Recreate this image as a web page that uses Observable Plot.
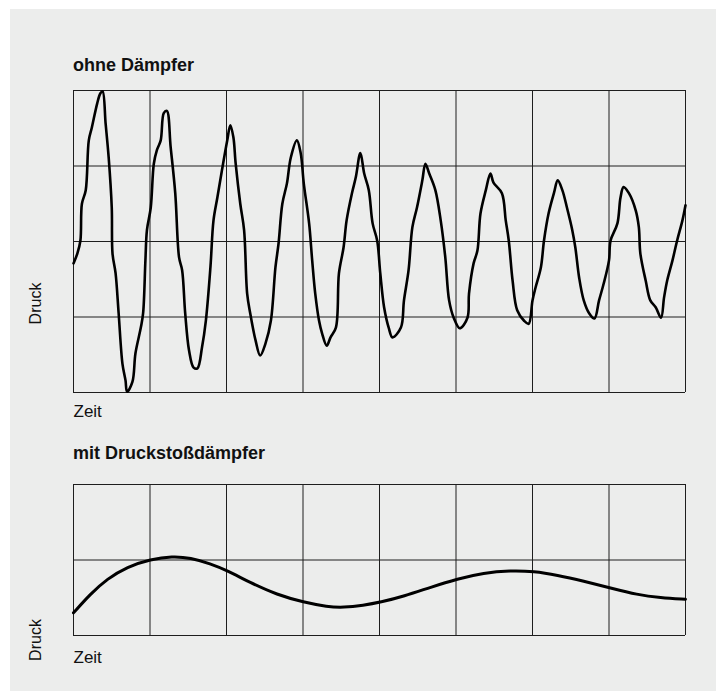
<!DOCTYPE html>
<html>
<head>
<meta charset="utf-8">
<script src="https://cdn.jsdelivr.net/npm/d3@7"></script>
<script src="https://cdn.jsdelivr.net/npm/@observablehq/plot@0.6"></script>
<style>
  html, body { margin: 0; padding: 0; background: #ffffff; }
  body { width: 716px; height: 691px; position: relative; overflow: hidden; font-family: "Liberation Sans", Arial, Helvetica, sans-serif; }
  #bg { position: absolute; left: 10px; top: 9px; width: 706px; height: 682px; background: #ecedec; }
  .title { position: absolute; left: 73px; font-weight: bold; font-size: 18px; color: #111; line-height: 1; }
  .panel { position: absolute; left: 0; }
</style>
</head>
<body>
<div id="bg"></div>
<div class="title" style="top:56px">ohne Dämpfer</div>
<div class="title" style="top:444px">mit Druckstoßdämpfer</div>
<div class="panel" id="top" style="top:80px"></div>
<div class="panel" id="bottom" style="top:474px"></div>
<script>
// time in grid divisions (0..8), pressure in grid divisions
const topTime = [0.0,0.05,0.09,0.11,0.16,0.20,0.24,0.31,0.35,0.38,0.42,0.46,0.50,0.51,0.55,0.59,0.64,0.68,0.70,0.77,0.81,0.88,0.91,0.94,0.96,1.01,1.05,1.09,1.14,1.18,1.22,1.27,1.33,1.38,1.42,1.46,1.51,1.57,1.62,1.68,1.73,1.79,1.83,1.88,1.94,2.01,2.05,2.09,2.12,2.18,2.23,2.27,2.31,2.38,2.44,2.51,2.58,2.64,2.68,2.73,2.79,2.84,2.92,2.97,3.01,3.08,3.12,3.16,3.21,3.25,3.31,3.36,3.43,3.47,3.53,3.57,3.64,3.69,3.75,3.80,3.86,3.91,3.97,4.01,4.06,4.12,4.17,4.28,4.32,4.38,4.43,4.49,4.56,4.60,4.65,4.73,4.80,4.86,4.91,4.97,5.05,5.15,5.17,5.23,5.28,5.32,5.39,5.45,5.49,5.60,5.65,5.69,5.74,5.80,5.89,5.95,6.00,6.04,6.11,6.15,6.21,6.28,6.33,6.39,6.45,6.52,6.56,6.61,6.67,6.74,6.81,6.87,6.93,7.00,7.02,7.11,7.15,7.19,7.26,7.35,7.39,7.41,7.48,7.54,7.61,7.68,7.72,7.76,7.83,7.89,7.96,8.0];
const topPressure = [1.71,1.84,2.01,2.50,2.68,3.34,3.51,3.83,3.96,3.99,3.56,3.11,2.45,1.84,1.58,1.05,0.38,0.16,0.01,0.14,0.52,0.86,1.05,1.75,2.15,2.45,3.03,3.21,3.34,3.70,3.73,3.25,2.64,1.79,1.62,1.05,0.56,0.33,0.32,0.60,0.95,1.66,2.28,2.58,2.94,3.34,3.54,3.38,3.03,2.50,2.15,1.31,1.05,0.69,0.49,0.65,0.95,1.66,1.97,2.50,2.77,3.11,3.34,3.17,2.77,2.24,1.75,1.31,0.95,0.78,0.62,0.73,0.86,1.58,1.92,2.28,2.64,2.85,3.17,2.90,2.68,2.24,2.01,1.58,1.13,0.86,0.73,0.86,1.22,1.62,2.19,2.45,2.81,3.03,2.90,2.68,2.28,1.79,1.22,0.99,0.85,0.99,1.31,1.71,1.88,2.37,2.68,2.90,2.78,2.64,2.28,2.01,1.48,1.09,0.95,0.91,1.22,1.39,1.66,2.01,2.37,2.64,2.81,2.68,2.45,2.15,1.92,1.52,1.22,1.05,0.98,1.22,1.44,1.75,2.01,2.24,2.58,2.72,2.64,2.41,2.19,1.84,1.48,1.22,1.13,0.99,1.26,1.48,1.75,2.01,2.28,2.48];

const bottomTime = [0.0,0.22,0.44,0.70,1.01,1.29,1.53,1.79,2.01,2.31,2.66,3.01,3.32,3.53,3.79,4.01,4.32,4.67,5.02,5.36,5.71,6.02,6.32,6.67,7.02,7.37,7.67,8.0];
const bottomPressure = [0.30,0.55,0.75,0.91,1.01,1.05,1.03,0.95,0.86,0.70,0.54,0.44,0.38,0.37,0.40,0.44,0.52,0.64,0.75,0.83,0.86,0.85,0.80,0.72,0.63,0.54,0.50,0.48];

const xGrid = [0,1,2,3,4,5,6,7,8];
const yGridTop = [0,1,2,3,4];
const yGridBottom = [0,1,2];

const topData = topTime.map((t, i) => ({t, p: topPressure[i]}));
const bottomData = bottomTime.map((t, i) => ({t, p: bottomPressure[i]}));

const font = '"Liberation Sans", Arial, Helvetica, sans-serif';
const gridColor = "#1e1e1e";

function panel(data, yGrid, ymax, plotHeight, curve, sw, zeitDy, druckDy) {
  return Plot.plot({
    width: 716,
    height: plotHeight,
    marginLeft: 73,
    marginRight: 31,
    marginTop: 10,
    marginBottom: plotHeight - 10 - (ymax === 4 ? 302 : 151),
    style: {background: "transparent", fontFamily: font, color: "#111", overflow: "visible"},
    x: {domain: [0, 8], axis: null},
    y: {domain: [0, ymax], axis: null},
    marks: [
      Plot.ruleX(xGrid, {x: d => d, stroke: gridColor, strokeWidth: 1}),
      Plot.ruleY(yGrid, {y: d => d, stroke: gridColor, strokeWidth: 1}),
      Plot.line(data, {x: "t", y: "p", curve, stroke: "#000", strokeWidth: sw, strokeLinejoin: "round", strokeLinecap: "round"}),
      Plot.text(["Zeit"], {frameAnchor: "bottom-left", dy: zeitDy, text: d => d, textAnchor: "start", lineAnchor: "middle", fontSize: 17, fill: "#111"}),
      Plot.text(["Druck"], {frameAnchor: "left", dx: -38, dy: druckDy, text: d => d, rotate: -90, textAnchor: "middle", lineAnchor: "middle", fontSize: 16, fill: "#111"})
    ]
  });
}

document.getElementById("top").append(panel(topData, yGridTop, 4, 352, "catmull-rom", 2.6, 19, 62));
document.getElementById("bottom").append(panel(bottomData, yGridBottom, 2, 211, "basis", 3, 22, 80));
</script>
</body>
</html>
